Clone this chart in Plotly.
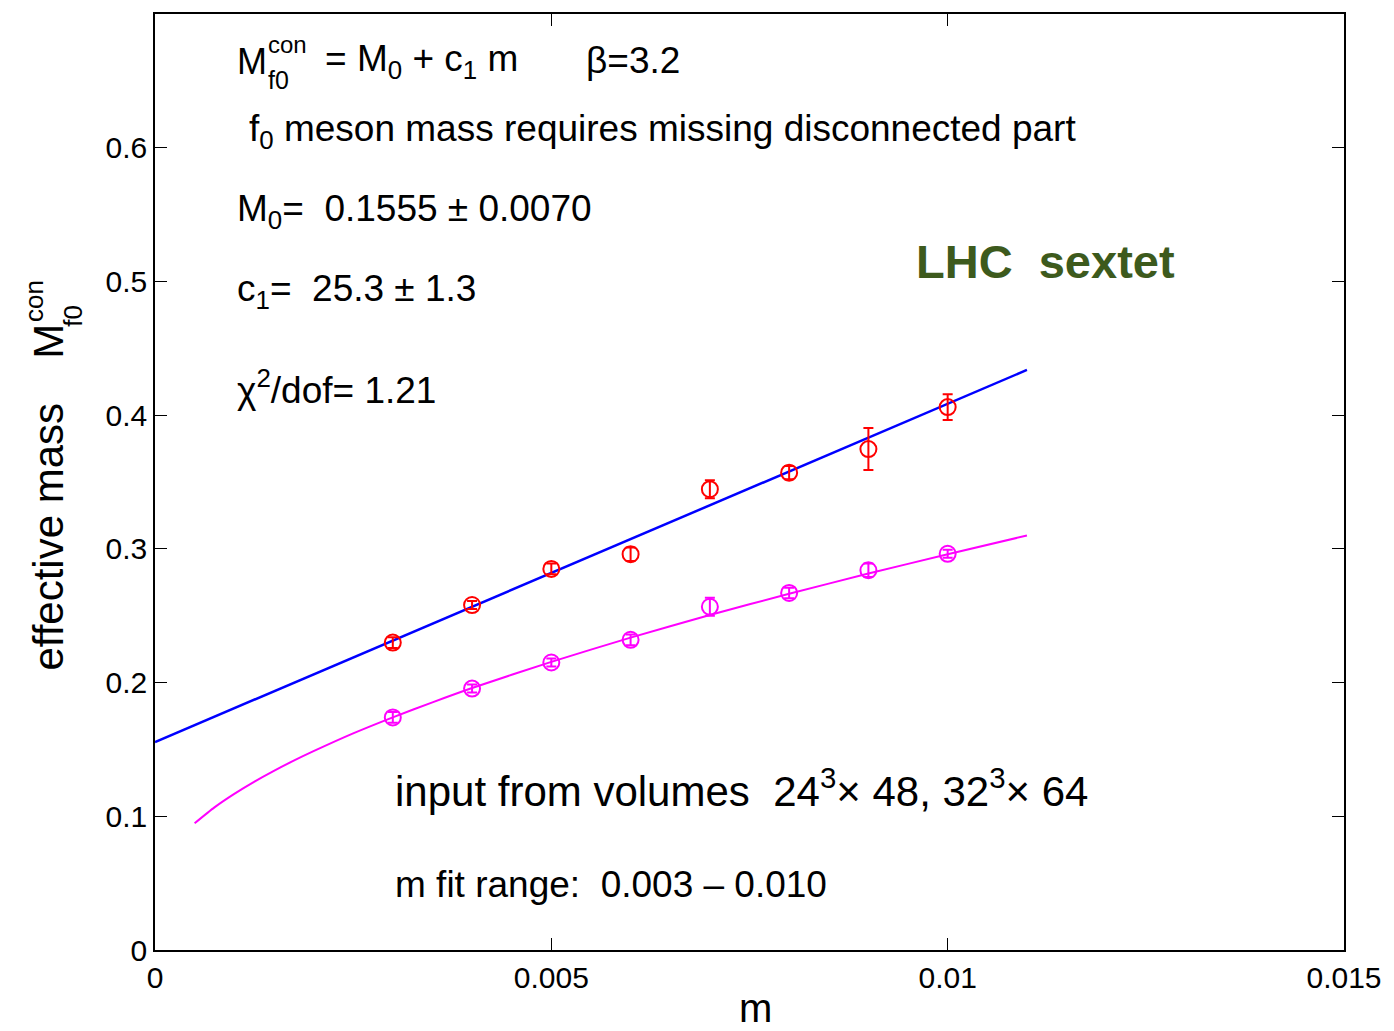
import plotly.graph_objects as go

# ---------------- data ----------------
m_vals = [0.003, 0.004, 0.005, 0.006, 0.007, 0.008, 0.009, 0.010]
red_M = [0.2299, 0.258, 0.285, 0.296, 0.3446, 0.357, 0.3746, 0.406]
red_err = [0.004, 0.003, 0.004, 0.005, 0.0067, 0.005, 0.0157, 0.0097]
mag_M = [0.1739, 0.1955, 0.215, 0.232, 0.2567, 0.267, 0.284, 0.2963]
mag_err = [0.004, 0.003, 0.003, 0.004, 0.0067, 0.004, 0.005, 0.003]

fit_m = [0.0, 0.011]
fit_M = [0.1555, 0.4338]

curve_m = [0.0005, 0.00075, 0.001, 0.00125, 0.0015, 0.00175, 0.002, 0.0025, 0.003,
           0.0035, 0.004, 0.005, 0.006, 0.007, 0.008, 0.009, 0.010, 0.011]
curve_M = [0.0948, 0.1067, 0.1168, 0.1258, 0.134, 0.1416, 0.1487, 0.162, 0.174,
           0.1852, 0.1959, 0.2155, 0.2336, 0.2505, 0.2664, 0.2815, 0.296, 0.310]

x_ticks = [0, 0.005, 0.01, 0.015]
x_ticktext = ["0", "0.005", "0.01", "0.015"]
y_ticks = [0, 0.1, 0.2, 0.3, 0.4, 0.5, 0.6]
y_ticktext = ["0", "0.1", "0.2", "0.3", "0.4", "0.5", "0.6"]

FONT = "Liberation Sans, Arial, Helvetica, sans-serif"
W, H = 1394, 1031
L, R, T, B = 155, 48, 13, 81
PW, PH = W - L - R, H - T - B


def px(x):
    return (x - L) / PW


def py(y):
    return (H - B - y) / PH


fig = go.Figure()

fig.add_trace(go.Scatter(x=fit_m, y=fit_M, mode="lines",
                         line=dict(color="#0000ff", width=2.5),
                         showlegend=False, hoverinfo="skip"))
fig.add_trace(go.Scatter(x=curve_m, y=curve_M, mode="lines",
                         line=dict(color="#ff00ff", width=2, shape="spline", smoothing=0.6),
                         showlegend=False, hoverinfo="skip"))
fig.add_trace(go.Scatter(x=m_vals, y=red_M, mode="markers",
                         marker=dict(symbol="circle-open", size=16, color="#ff0000",
                                     line=dict(width=2, color="#ff0000")),
                         error_y=dict(type="data", array=red_err, color="#ff0000",
                                      thickness=2, width=5),
                         showlegend=False))
fig.add_trace(go.Scatter(x=m_vals, y=mag_M, mode="markers",
                         marker=dict(symbol="circle-open", size=16, color="#ff00ff",
                                     line=dict(width=2, color="#ff00ff")),
                         error_y=dict(type="data", array=mag_err, color="#ff00ff",
                                      thickness=2, width=5),
                         showlegend=False))

ann = []


def text(s, x, ybase, fs, anchor="left", color="black", bold=False):
    content = f"<b>{s}</b>" if bold else s
    ann.append(dict(text=content, x=px(x), y=py(ybase - 0.35 * fs), xref="paper", yref="paper",
                    xanchor=anchor, yanchor="middle", showarrow=False,
                    font=dict(family=FONT, size=fs, color=color)))


def vtext(s, xc, yc, fs):
    ann.append(dict(text=s, x=px(xc), y=py(yc), xref="paper", yref="paper",
                    xanchor="center", yanchor="middle", showarrow=False, textangle=-90,
                    font=dict(family=FONT, size=fs, color="black")))


FS = 37
# line 1
text("M", 235, 73, 36)
text("con", 266, 52, 24)
text("f0", 266, 88, 25)
text("= M<sub>0</sub> + c<sub>1</sub> m", 323, 73, FS)
text("β=3.2", 585, 73, FS)
# other lines
text("f<sub>0</sub> meson mass requires missing disconnected part", 247, 143, FS)
text("M<sub>0</sub>=  0.1555 ± 0.0070", 235, 223, FS)
text("c<sub>1</sub>=  25.3 ± 1.3", 235, 303, FS)
text("χ<sup>2</sup>/dof= 1.21", 235, 400, FS)
text("input from volumes  24<sup>3</sup>× 48, 32<sup>3</sup>× 64", 393, 803, 42)
text("m fit range:  0.003 – 0.010", 393, 897, FS)
text("LHC  sextet", 1047, 277, 47, anchor="center", color="#3d5a1d", bold=True)
# x title
ann.append(dict(text="m", x=px(757), y=0, xref="paper", yref="paper",
                xanchor="center", yanchor="top", yshift=-34, showarrow=False,
                font=dict(family=FONT, size=40, color="black")))
# y title
vtext("effective mass", 48, 536, 42)
vtext("M", 48, 341, 42)
vtext("con", 33, 300, 26)
vtext("f0", 73, 315, 26)

fig.update_layout(
    width=W, height=H,
    margin=dict(l=L, r=R, t=T, b=B, pad=0),
    paper_bgcolor="white", plot_bgcolor="white",
    font=dict(family=FONT, color="black"),
    annotations=ann,
    xaxis=dict(range=[0, 0.015], tickvals=x_ticks, ticktext=x_ticktext,
               ticks="inside", ticklen=12, tickwidth=1.2, tickcolor="black",
               showline=True, linecolor="black", linewidth=1.5, mirror="ticks",
               showgrid=False, zeroline=False,
               tickfont=dict(family=FONT, size=30, color="black")),
    yaxis=dict(range=[0, 0.7], tickvals=y_ticks, ticktext=y_ticktext,
               ticks="inside", ticklen=12, tickwidth=1.2, tickcolor="black",
               showline=True, linecolor="black", linewidth=1.5, mirror="ticks",
               showgrid=False, zeroline=False,
               tickfont=dict(family=FONT, size=30, color="black")),
)

fig.write_html("out.html")
